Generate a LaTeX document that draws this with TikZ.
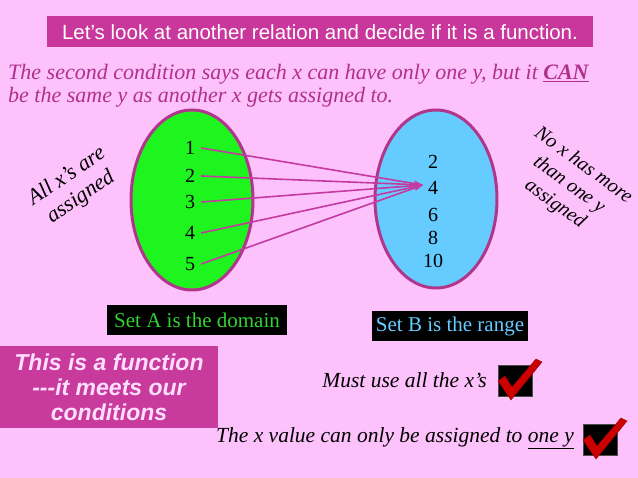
\documentclass[tikz,border=0pt]{standalone}
\usepackage{fontspec}
\setmainfont{Liberation Serif}
\newfontfamily\arialfont{Liberation Sans}
\usetikzlibrary{arrows.meta}
\definecolor{bgpink}{RGB}{253,194,251}
\definecolor{barmag}{RGB}{201,55,157}
\definecolor{txtmag}{RGB}{176,48,140}
\definecolor{ellborder}{RGB}{176,54,140}
\definecolor{setgreen}{RGB}{30,245,30}
\definecolor{setblue}{RGB}{102,204,255}
\definecolor{linemag}{RGB}{196,58,160}
\definecolor{labgreen}{RGB}{50,210,50}
\definecolor{fnbox}{RGB}{201,58,157}
\definecolor{fntext}{RGB}{255,222,255}
\definecolor{checkred}{RGB}{205,0,0}
\tikzset{
  num/.style={font=\fontsize{20}{22}\selectfont, inner sep=2pt},
  setlabel/.style={fill=black, font=\fontsize{21}{23}\selectfont, inner sep=3pt, minimum height=30pt},
  rotlab/.style={font=\fontsize{22}{25}\selectfont\itshape, align=center},
  maparrow/.style={draw=linemag, line width=1.6pt, -{Stealth[length=9pt,width=6pt]}},
  checkbox/.style={fill=black, draw=black!70, line width=0.6pt, minimum width=34pt, minimum height=31pt, inner sep=0pt},
  condtext/.style={font=\fontsize{21.5}{23}\selectfont\itshape, anchor=east, inner sep=0pt},
}
\newcommand{\checkmk}[1]{%
  \fill[checkred, draw=checkred!70!black, line width=0.4pt, shift={(#1)}]
    (-17,0) -- (-10,-5) -- (-3,6) -- (21,-22) -- (27,-19) -- (-4,19) -- cycle;}
\begin{document}
\begin{tikzpicture}[x=1pt,y=-1pt]
\useasboundingbox (0,0) rectangle (638,478);
\fill[bgpink] (0,0) rectangle (638,478);
% title
\node[fill=barmag, minimum width=546pt, minimum height=31pt, inner sep=0pt,
  font=\arialfont\fontsize{20.5}{22}\selectfont, text=white] (title) at (320,32)
  {Let’s look at another relation and decide if it is a function.};
% italic lines
\node[anchor=west, text=txtmag, font=\fontsize{22}{24}\selectfont\itshape, inner sep=0pt] (l1) at (8,74)
  {The second condition says each x can have only one y, but it \underline{\textbf{CAN}}};
\node[anchor=west, text=txtmag, font=\fontsize{22}{24}\selectfont\itshape, inner sep=0pt] (l2) at (8,97)
  {be the same y as another x gets assigned to.};
% ellipses
\filldraw[fill=setgreen, draw=ellborder, line width=3pt] (192,200) ellipse [x radius=61, y radius=90];
\filldraw[fill=setblue, draw=ellborder, line width=3pt] (436,199) ellipse [x radius=61, y radius=89];
% domain numbers
\node[num] (a1) at (190,148) {1};
\node[num] (a2) at (190,176) {2};
\node[num] (a3) at (190,202) {3};
\node[num] (a4) at (190,233) {4};
\node[num] (a5) at (190,264) {5};
% range numbers
\node[num] (b2) at (433,162) {2};
\node[num] (b4) at (433,188) {4};
\node[num] (b6) at (433,215) {6};
\node[num] (b8) at (433,238) {8};
\node[num] (b10) at (433,261) {10};
\coordinate (tip) at (423,185);
\foreach \n in {1,...,5} \draw[maparrow] ([xshift=4pt]a\n.east) -- (tip);
% rotated labels
\node[rotlab, rotate=34] (allx) at (74,187) {All x’s are\\assigned};
\node[rotlab, rotate=-36, font=\fontsize{20}{24}\selectfont\itshape] (nox) at (569,185) {No x has more\\than one y\\assigned};
% set labels
\node[setlabel, text=labgreen, minimum width=180pt] (seta) at (197,320) {Set A is the domain};
\node[setlabel, text=setblue, minimum width=156pt] (setb) at (450,326) {Set B is the range};
% function box
\node[fill=fnbox, minimum width=218pt, minimum height=82pt, inner sep=0pt, align=center,
  text=fntext, font=\arialfont\bfseries\itshape\fontsize{23}{25}\selectfont] (fn) at (109,387)
  {This is a function\\---it meets our\\conditions};
% conditions
\node[condtext] (c1) at (487,380) {Must use all the x’s};
\node[checkbox] (k1) at (515,381) {};
\checkmk{k1.center}
\node[condtext] (c2) at (574,438) {The x value can only be assigned to \underline{one y}};
\node[checkbox] (k2) at (600,440) {};
\checkmk{k2.center}
\end{tikzpicture}
\end{document}
